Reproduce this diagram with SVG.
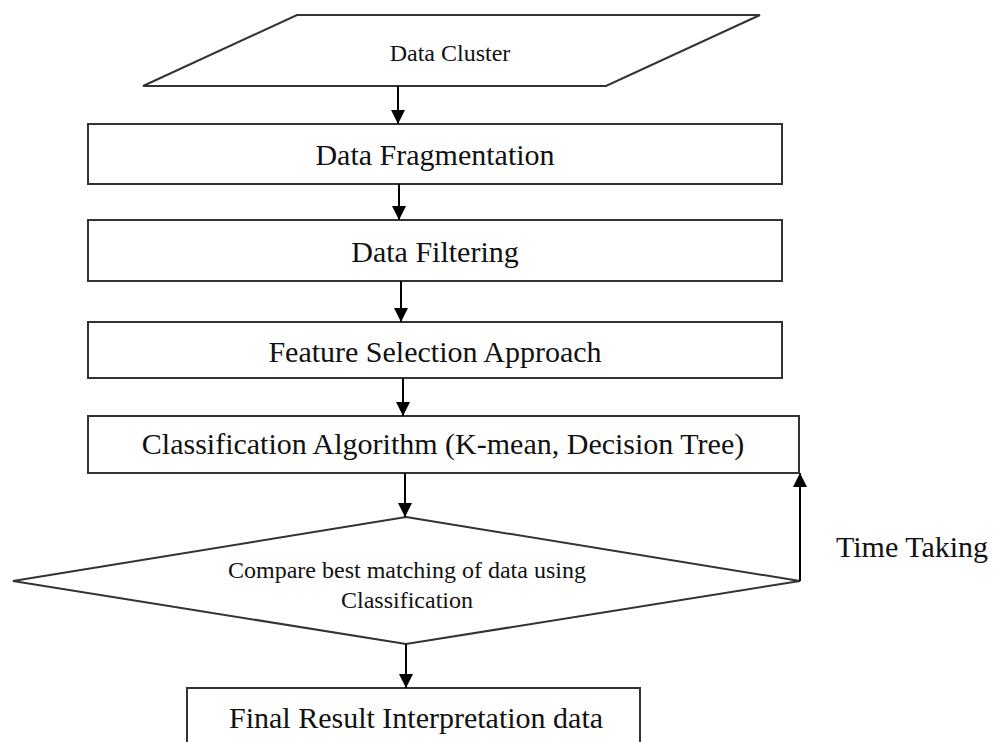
<svg xmlns="http://www.w3.org/2000/svg" width="995" height="742" viewBox="0 0 995 742">
<defs>
<marker id="ah" markerWidth="14" markerHeight="16" refX="14" refY="7" orient="auto" markerUnits="userSpaceOnUse">
<path d="M0,0 L14,7 L0,14 Z" fill="#000"/>
</marker>
<style>
.shape{fill:#fff;stroke:#333;stroke-width:2}
.t{font-family:"Liberation Serif","Times New Roman",serif;fill:#111;text-anchor:middle}
.big{font-size:30px}
.sm{font-size:24px}
.conn{stroke:#000;stroke-width:2;fill:none}
</style>
</defs>
<rect width="995" height="742" fill="#fff"/>
<g id="n_cluster">
<polygon class="shape" points="297,15 760,15 606,86 143,86"/>
<text class="t sm" x="450" y="61">Data Cluster</text>
</g>
<g id="n_frag">
<rect class="shape" x="88" y="124" width="694" height="60"/>
<text class="t big" x="435" y="165">Data Fragmentation</text>
</g>
<g id="n_filter">
<rect class="shape" x="88" y="220" width="694" height="61"/>
<text class="t big" x="435" y="262">Data Filtering</text>
</g>
<g id="n_feature">
<rect class="shape" x="88" y="322" width="694" height="56"/>
<text class="t big" x="435" y="362">Feature Selection Approach</text>
</g>
<g id="n_class">
<rect class="shape" x="88" y="416" width="711" height="57"/>
<text class="t big" x="443" y="454">Classification Algorithm (K-mean, Decision Tree)</text>
</g>
<g id="n_compare">
<polygon class="shape" points="406,517 800,581 406,644 13,581"/>
<text class="t sm" x="407" y="578">Compare best matching of data using</text>
<text class="t sm" x="407" y="608">Classification</text>
</g>
<g id="n_final">
<rect class="shape" x="187" y="688" width="453" height="70"/>
<text class="t big" x="416" y="728">Final Result Interpretation data</text>
</g>
<g id="connectors">
<line class="conn" x1="398" y1="86" x2="398" y2="124" marker-end="url(#ah)"/>
<line class="conn" x1="399" y1="184" x2="399" y2="220" marker-end="url(#ah)"/>
<line class="conn" x1="401" y1="281" x2="401" y2="322" marker-end="url(#ah)"/>
<line class="conn" x1="403" y1="378" x2="403" y2="416" marker-end="url(#ah)"/>
<line class="conn" x1="405" y1="473" x2="405" y2="517" marker-end="url(#ah)"/>
<line class="conn" x1="406" y1="644" x2="406" y2="688" marker-end="url(#ah)"/>
<polyline class="conn" points="800,581 800,473" marker-end="url(#ah)"/>
<text class="t big" x="912" y="557">Time Taking</text>
</g>
</svg>
